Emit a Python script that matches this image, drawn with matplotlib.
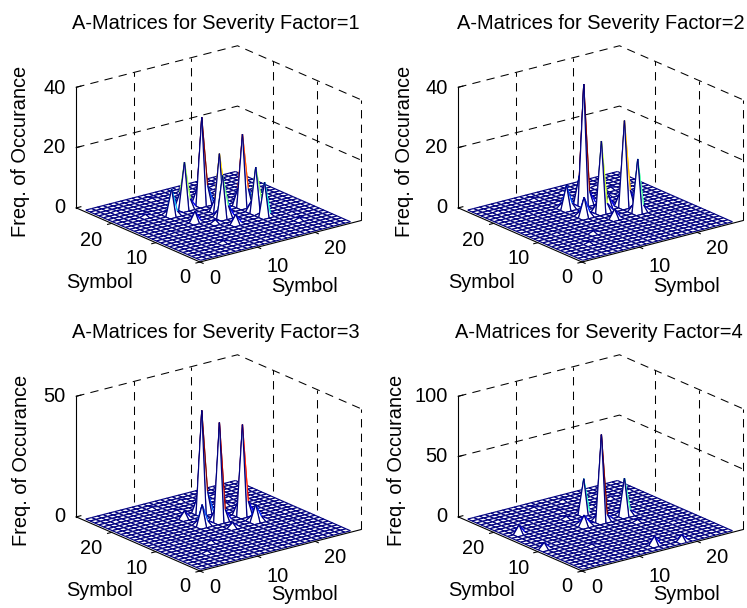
import numpy as np
import matplotlib
matplotlib.use("Agg")
import matplotlib.pyplot as plt
from matplotlib.collections import PolyCollection
from mpl_toolkits.mplot3d import proj3d

plt.rcParams['font.family'] = ['Liberation Sans', 'DejaVu Sans']

titles = ["A-Matrices for Severity Factor=1", "A-Matrices for Severity Factor=2",
          "A-Matrices for Severity Factor=3", "A-Matrices for Severity Factor=4"]
z_ticks = [[0, 20, 40], [0, 20, 40], [0, 50], [0, 50, 100]]
xy_ticks = [0, 10, 20]
x_label = "Symbol"
y_label = "Symbol"
z_label = "Freq. of Occurance"
n_symbols = 27

peak_x = [[15, 19, 15, 12, 19, 19, 9, 14, 10, 14, 12, 17, 6, 22, 8, 20],
          [15, 15, 19, 19, 12, 12, 15, 17, 9, 20, 6, 22],
          [15, 15, 19, 12, 19, 12, 15, 9, 20, 6, 22],
          [15, 15, 19, 12, 3, 2, 15, 19, 12, 19, 8, 22]]
peak_y = [[19, 15, 15, 19, 12, 10, 18, 13, 14, 10, 12, 17, 20, 6, 5, 22],
          [19, 15, 15, 12, 19, 15, 12, 16, 9, 20, 6, 22],
          [19, 15, 15, 15, 12, 19, 12, 9, 20, 6, 22],
          [15, 19, 15, 15, 18, 11, 3, 2, 19, 12, 8, 22]]
peak_z = [[29, 24, 19.5, 15.6, 15, 11.3, 8.8, 14, 3.5, 3, 1, 0.8, 0.6, 0.6, 0.5, 0.6],
          [40, 23.7, 28.5, 17.7, 7.9, 6.5, 3, 4, 0.7, 0.6, 0.5, 0.5],
          [42.8, 41, 37.7, 8.8, 7, 3, 2, 0.7, 0.8, 0.6, 0.5],
          [72, 29, 31, 9, 7, 5, 7, 5, 1.5, 1.5, 1, 1]]
# heights of the grid neighbours one step on in x and in y, which catch each spike
next_x_z = [[6, 5.5, 5.5, 3, 4, 0.5, 1, 3.6, 0, 0, 0, 0, 0, 0, 0, 0],
            [4, 2.6, 5, 2, 1.5, 1.2, 0, 0, 0, 0, 0, 0],
            [8.7, 4.4, 5.4, 1.5, 1.5, 0, 0, 0, 0, 0, 0],
            [4.7, 0.5, 3.5, 2, 0, 0, 0, 0, 0, 0, 0, 0]]
next_y_z = [[5, 5.5, 4, 5, 3, 0.5, 1, 2, 0, 0, 0, 0, 0, 0, 0, 0],
            [9, 2.6, 4, 2, 1.5, 1.2, 0, 0, 0, 0, 0, 0],
            [6, 4, 5, 1.5, 1.5, 0, 0, 0, 0, 0, 0],
            [4, 0.5, 2, 2, 0, 0, 0, 0, 0, 0, 0, 0]]

# small ripple of the floor
ripple_x = [4, 7, 11, 13, 16, 18, 21, 24, 25, 5, 9, 23, 26, 14]
ripple_y = [24, 21, 25, 22, 25, 21, 24, 18, 13, 12, 4, 9, 23, 3]
ripple_z = [0.25, 0.2, 0.35, 0.3, 0.4, 0.25, 0.3, 0.2, 0.25, 0.2, 0.15, 0.25, 0.2, 0.15]

AXIS_MAX = 28
W, H = 747, 608
BLANK = (0, 0, 0, 0)
OFFSETS = [(0, 0), (382, 0), (0, 309), (382, 309)]
FRONT = (200, 262)
RIGHT = (362, 222)
LEFT = (77, 207)
FS = 14.4
TICK_FS = 14.4
MESH_SHIFT = 0.5


class PainterMesh(PolyCollection):
    """Quads and their edges, projected by the 3D axes and painted far to near."""

    def __init__(self, pts, sizes, **kw):
        super().__init__([], **kw)
        self._pts = pts
        self._splits = np.cumsum(sizes)[:-1]

    def do_3d_projection(self):
        x, y, _ = proj3d.proj_transform(self._pts[:, 0], self._pts[:, 1], self._pts[:, 2], self.axes.M)
        self.set_verts(np.split(np.column_stack([x, y]), self._splits), closed=False)
        return 0


def build_mesh(Z):
    cmap = matplotlib.colormaps['jet']
    colors = cmap(Z / Z.max())
    xs = np.arange(Z.shape[0]) + MESH_SHIFT
    pts, sizes, faces, edges = [], [], [], []
    P = lambda i, j: (xs[i], xs[j], Z[i, j])

    def edge(i, j, i2, j2):
        pts.extend([P(i, j), P(i2, j2)])
        sizes.append(2)
        faces.append(BLANK)
        edges.append(colors[i, j])

    n = Z.shape[0]
    for i in range(n - 2, -1, -1):
        for j in range(n - 2, -1, -1):
            pts.extend([P(i, j), P(i + 1, j), P(i + 1, j + 1), P(i, j + 1)])
            sizes.append(4)
            faces.append((1, 1, 1, 1))
            edges.append(BLANK)
            edge(i, j + 1, i + 1, j + 1)
            edge(i + 1, j, i + 1, j + 1)
            edge(i, j, i + 1, j)
            edge(i, j, i, j + 1)
    return PainterMesh(np.array(pts, float), sizes, facecolors=faces, edgecolors=edges,
                       linewidths=0.85, zorder=2, clip_on=False)


fig = plt.figure(figsize=(W / 100, H / 100), dpi=100)
DASH = dict(color='black', lw=0.75, ls=(0, (8, 6)), zorder=1, clip_on=False)
SOLID = dict(color='black', lw=0.8, zorder=3, clip_on=False)


def ftext(px, py, s, **kw):
    return fig.text(px / W, 1 - py / H, s, fontsize=kw.pop('fontsize', TICK_FS), color='black', **kw)


for k in range(4):
    ox, oy = OFFSETS[k]
    zmax = z_ticks[k][-1]
    ax = fig.add_axes([0, 0, 0.5, 0.5], projection='3d', proj_type='ortho', computed_zorder=False)
    ax.view_init(elev=19.6, azim=-127.5)
    ax.set_box_aspect((1, 1, 0.63))
    ax.set_xlim(0, AXIS_MAX, view_margin=0)
    ax.set_ylim(0, AXIS_MAX, view_margin=0)
    ax.set_zlim(0, zmax, view_margin=0)
    ax.set_axis_off()

    # place the square axes so the floor corners land where they belong
    M = ax.get_proj()
    u, v, _ = proj3d.proj_transform(np.array([0., AXIS_MAX, 0.]), np.array([0., 0., AXIS_MAX]),
                                    np.zeros(3), M)
    scale = ((RIGHT[0] - LEFT[0])) / (u[1] - u[2])
    (l2, r2), (b2, t2) = ax.viewLim.intervalx, ax.viewLim.intervaly
    side = scale * (r2 - l2)
    left = FRONT[0] + ox - scale * (u[0] - l2)
    bottom = (H - (FRONT[1] + oy)) - scale * (v[0] - b2)
    ax.set_position([left / W, bottom / H, side / W, side * (t2 - b2) / (r2 - l2) / H])

    # back walls
    for t in xy_ticks[1:]:
        ax.plot([t, t], [AXIS_MAX, AXIS_MAX], [0, zmax], **DASH)
        ax.plot([AXIS_MAX, AXIS_MAX], [t, t], [0, zmax], **DASH)
    ax.plot([AXIS_MAX, AXIS_MAX], [0, 0], [0, zmax], **DASH)
    for zt in z_ticks[k][1:]:
        ax.plot([0, AXIS_MAX, AXIS_MAX], [AXIS_MAX, AXIS_MAX, 0], [zt, zt, zt], **DASH)

    # surface
    Z = np.zeros((n_symbols, n_symbols))
    Z[np.array(ripple_x) - 1, np.array(ripple_y) - 1] = np.array(ripple_z) * zmax / 40
    for px, py, zx, zy in zip(peak_x[k], peak_y[k], next_x_z[k], next_y_z[k]):
        Z[px, py - 1] = max(Z[px, py - 1], zx)
        Z[px - 1, py] = max(Z[px - 1, py], zy)
    Z[np.array(peak_x[k]) - 1, np.array(peak_y[k]) - 1] = peak_z[k]
    ax.add_collection(build_mesh(Z), autolim=False)

    # axis lines and ticks
    ax.plot([0, AXIS_MAX], [0, 0], [0, 0], **SOLID)
    ax.plot([0, 0], [0, AXIS_MAX], [0, 0], **SOLID)
    ax.plot([0, 0], [AXIS_MAX, AXIS_MAX], [0, zmax], **SOLID)
    for t in xy_ticks:
        ax.plot([t, t], [0, -0.7], [0, 0], **SOLID)
        ax.plot([0, -0.7], [t, t], [0, 0], **SOLID)
    for zt in z_ticks[k]:
        ax.plot([0, 0.8], [AXIS_MAX, AXIS_MAX], [zt, zt], **SOLID)

    # texts
    title_x = [216, 218.5, 216, 217][k]
    ftext(title_x + ox, 23.5 + oy, titles[k], ha='center', va='center', fontsize=FS)
    ylab_x = [21, 23, 22, 14][k]
    ftext(ylab_x + ox, 151 + oy, z_label, rotation=90, ha='center', va='center', fontsize=FS)
    zrange = 119.5
    for zt in z_ticks[k]:
        ftext(65.5 + ox, 207.5 - zrange * zt / zmax + oy, str(zt), ha='right', va='center')
    for t, (px, py) in zip(xy_ticks, [(215, 278.5), (278, 267), (335, 248.5)]):
        ftext(px + ox, py + oy, str(t), ha='center', va='center')
    for t, (px, py) in zip(xy_ticks, [(185, 277), (137, 259), (91, 240)]):
        ftext(px + ox, py + oy, str(t), ha='center', va='center')
    ftext(100 + ox, 282 + oy, y_label, ha='center', va='center', fontsize=FS)
    ftext(305 + ox, 286 + oy, x_label, ha='center', va='center', fontsize=FS)

fig.savefig("out.png", dpi=100)
